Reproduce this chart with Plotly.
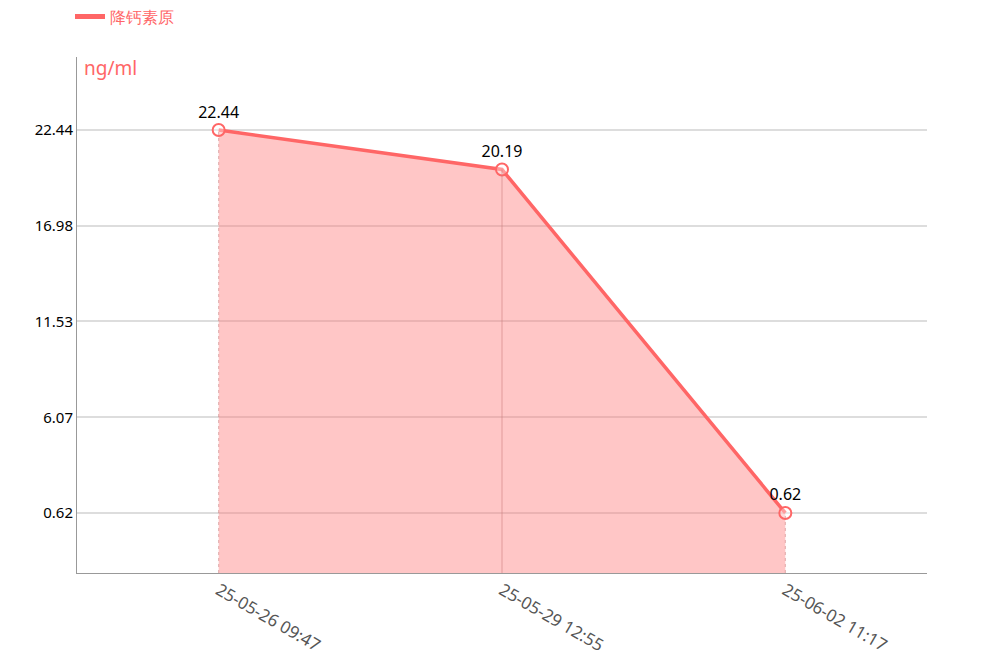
import plotly.graph_objects as go

# données
times = ['25-05-26 09:47', '25-05-29 12:55', '25-06-02 11:17']
values = [22.44, 20.19, 0.62]
y_ticks = [0.62, 6.07, 11.53, 16.98, 22.44]
series_name = '降钙素原'
unit = 'ng/ml'

y_min, y_max = -2.80, 26.6
red = '#FF6666'
font_family = 'Noto Sans, Open Sans, sans-serif'

fig = go.Figure()

# ligne de base pour le remplissage
fig.add_trace(go.Scatter(
    x=times, y=[y_min] * len(times),
    mode='lines', line=dict(width=0),
    showlegend=False, hoverinfo='skip'
))

fig.add_trace(go.Scatter(
    x=times, y=values,
    mode='lines+markers+text',
    name=series_name,
    showlegend=False,
    fill='tonexty',
    fillcolor='rgba(255,120,120,0.42)',
    line=dict(color=red, width=3.5),
    marker=dict(symbol='circle', size=12, color='rgba(255,255,255,0.35)',
                line=dict(color=red, width=2)),
    text=[f'{v:.2f}' for v in values],
    textposition='top center',
    textfont=dict(color='black', size=16, family=font_family),
))

# traits verticaux sous chaque point
for i, (t, v) in enumerate(zip(times, values)):
    fig.add_trace(go.Scatter(
        x=[t, t], y=[y_min, v],
        mode='lines',
        line=dict(color='rgba(200,120,120,0.55)', width=1,
                  dash='solid' if i == 1 else 'dot'),
        showlegend=False, hoverinfo='skip'
    ))

# entrée de légende (trait seul)
fig.add_trace(go.Scatter(
    x=[None], y=[None], mode='lines', name=series_name,
    line=dict(color=red, width=5)
))

fig.update_layout(
    width=1000, height=671,
    margin=dict(l=69, r=81, t=49, b=106, autoexpand=False),
    plot_bgcolor='white', paper_bgcolor='white',
    font=dict(family=font_family),
    showlegend=True,
    legend=dict(x=0.062, y=0.987, xref='container', yref='container',
                xanchor='left', yanchor='middle',
                orientation='h',
                font=dict(color=red, size=16, family=font_family),
                itemwidth=30),
    xaxis=dict(
        type='category', range=[-0.5, 2.5],
        showgrid=False, showline=True, linecolor='#999', linewidth=1,
        ticks='', tickangle=30, automargin=False,
        tickfont=dict(color='#555', size=17, family=font_family),
    ),
    yaxis=dict(
        range=[y_min, y_max], automargin=False,
        tickvals=y_ticks, ticktext=[f'{v:.2f}' for v in y_ticks],
        showgrid=True, gridcolor='#dddddd', gridwidth=1.5,
        showline=True, linecolor='#999', linewidth=1,
        zeroline=False, ticks='',
        tickfont=dict(color='black', size=15, family=font_family),
    ),
)

fig.add_annotation(
    text=unit, xref='paper', yref='paper', x=0.006, y=1.008,
    xanchor='left', yanchor='top', showarrow=False,
    font=dict(color=red, size=19, family=font_family)
)

fig.write_html("out.html")
